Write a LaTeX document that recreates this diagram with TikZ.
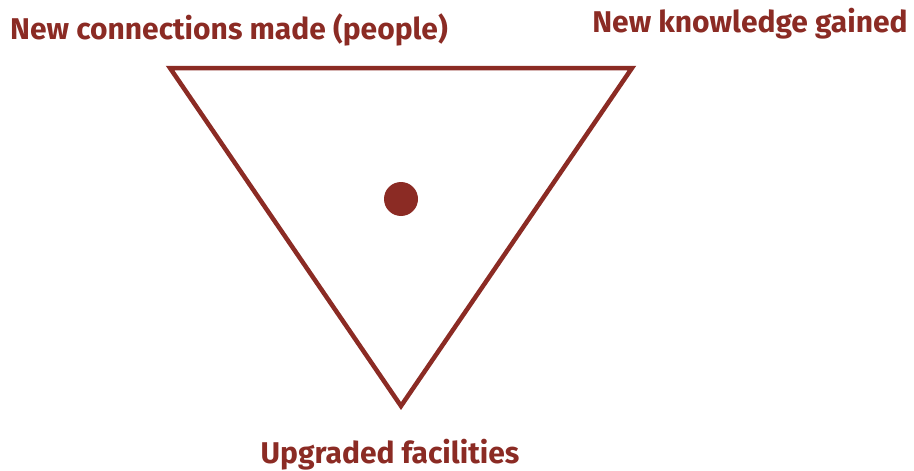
\documentclass[tikz,border=0pt]{standalone}
\usepackage{fontspec}
\setmainfont{Fira Sans}
\usepackage{xcolor}
\usepackage{tikz}
\definecolor{maroon}{HTML}{8B2B24}
\tikzset{lbl/.style={text=maroon, font=\fontsize{30}{32}\selectfont\bfseries, anchor=base, inner sep=0pt}}

\begin{document}
\begin{tikzpicture}[x=1pt,y=-1pt, line width=4.5pt]
			\useasboundingbox (0,0) rectangle (914,471);
			\coordinate (tl) at (170,68);
			\coordinate (tr) at (632,68);
			\coordinate (bt) at (401,406);
			\draw[maroon, line join=miter] (tl) -- (tr) -- (bt) -- cycle;
			\fill[maroon] (401,199) circle (17);
			\node[lbl] (people) at (229,39) {New connections made (people)};
			\node[lbl] (knowledge) at (750,32) {New knowledge gained};
			\node[lbl] (facilities) at (390,463) {Upgraded facilities};
		\end{tikzpicture}
\end{document}
